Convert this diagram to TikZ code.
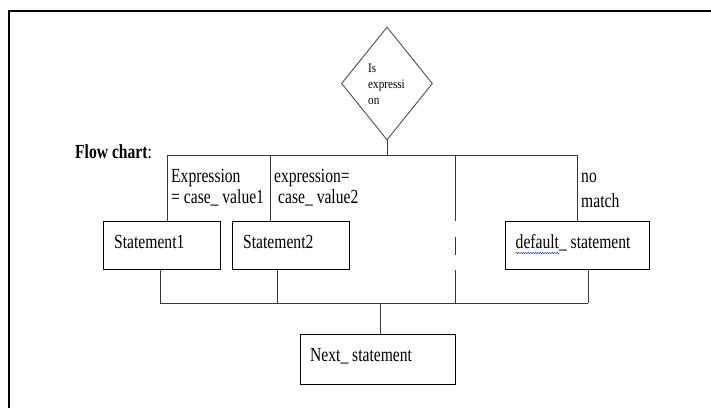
\documentclass[tikz,border=0pt]{standalone}
\usepackage{fontspec}
\setmainfont{Liberation Serif}
% narrowed serif faces for the labels
\newfontfamily\condserif[FakeStretch=0.78]{Liberation Serif}
\newfontfamily\diaserif[FakeStretch=0.86]{Liberation Serif}
\usetikzlibrary{shapes.geometric,decorations.pathmorphing}
\begin{document}
\begin{tikzpicture}[x=1pt,y=-1pt,
  frame/.style={line width=1.4pt, black},
  wire/.style={line width=1pt, black!78},
  box/.style={draw=black, line width=1pt, inner sep=0pt, anchor=north west, minimum height=48pt},
  txt/.style={inner sep=0pt, anchor=base west, font=\condserif\fontsize{20}{22}\selectfont},
  dtxt/.style={inner sep=0pt, anchor=base west, font=\diaserif\fontsize{13}{16}\selectfont},
  squiggle/.style={blue!80!white, line width=0.5pt, decorate,
    decoration={snake, amplitude=0.7pt, segment length=2.4pt}}]
\useasboundingbox (0,0) rectangle (711,408);

% page frame
\draw[frame] (9,408) -- (9,11) -- (711,11);

% heading
\node[txt, font=\condserif\fontsize{20}{22}\selectfont] (title) at (75,158) {\textbf{Flow chart}:};

% decision
\node[draw=black!70, line width=0.9pt, diamond, minimum width=91pt, minimum height=113pt, inner sep=0pt] (q) at (387,83.5) {};
\node[dtxt] (q1) at (368,72.5) {Is};
\node[dtxt] (q2) at (368,88.5) {expressi};
\node[dtxt] (q3) at (368,104) {on};

% statement boxes
\node[box, minimum width=117pt] (s1) at (103,221) {};
\node[txt] (s1t) at (114,248) {Statement1};
\node[box, minimum width=117pt] (s2) at (232,221) {};
\node[txt] (s2t) at (243,248) {Statement2};
\node[box, minimum width=144pt] (ds) at (505,221) {};
\node[txt] (dst) at (515.5,248) {default\_ statement};
\draw[squiggle] ([yshift=-5pt]dst.base west) -- ++(44,0);
\node[box, minimum width=155pt, minimum height=50pt] (ns) at (300,334) {};
\node[txt] (nst) at (310,361) {Next\_ statement};

% case labels
\node[txt] (c1a) at (171,182) {Expression};
\node[txt] (c1b) at (171,203) {= case\_ value1};
\node[txt] (c2a) at (274,182) {expression=};
\node[txt] (c2b) at (278,203) {case\_ value2};
\node[txt] (c3a) at (581,182) {no};
\node[txt] (c3b) at (581,207) {match};

% junction points
\coordinate (tbL) at (167,155);
\coordinate (tb2) at (270,155);
\coordinate (tbD) at (455,155);
\coordinate (tbR) at (577,155);
\coordinate (bbL) at (160,303);
\coordinate (bb2) at (277,303);
\coordinate (bbN) at (380,303);
\coordinate (bbD) at (455,303);
\coordinate (bbR) at (588,303);

% branches out of the decision
\draw[wire] (q.south) -- (q.south |- tbL);
\draw[wire] (tbL) -- (tbR);
\draw[wire] (tbL) -- (tbL |- s1.north);
\draw[wire] (tb2) -- (tb2 |- s2.north);
\draw[wire] (tbR) -- (tbR |- ds.north);
\draw[wire, dash pattern=on 66pt off 16pt on 18pt off 15pt on 40pt] (tbD) -- (bbD);

% merge into the next statement
\draw[wire] (bbL |- s1.south) -- (bbL);
\draw[wire] (bb2 |- s2.south) -- (bb2);
\draw[wire] (bbR |- ds.south) -- (bbR);
\draw[wire] (bbL) -- (bbR);
\draw[wire] (bbN) -- (bbN |- ns.north);
\end{tikzpicture}
\end{document}
